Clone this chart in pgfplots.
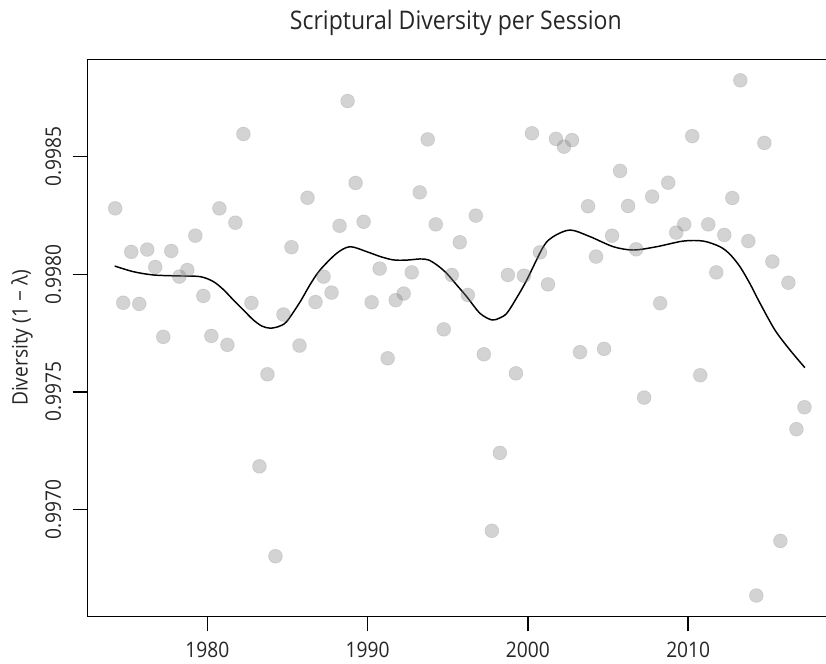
\documentclass[border=0pt]{standalone}
\usepackage{fontspec}
\setmainfont{Open Sans}[FakeStretch=0.9]
\usepackage{pgfplots}
\usepackage{pgfplotstable}
\pgfplotsset{compat=1.18}

% diversity of each session
\pgfplotstableread{
year   div
1974.25 0.998280
1974.75 0.997879
1975.25 0.998095
1975.75 0.997874
1976.25 0.998105
1976.75 0.998031
1977.25 0.997734
1977.75 0.998099
1978.25 0.997990
1978.75 0.998018
1979.25 0.998164
1979.75 0.997908
1980.25 0.997738
1980.75 0.998280
1981.25 0.997700
1981.75 0.998219
1982.25 0.998596
1982.75 0.997878
1983.25 0.997184
1983.75 0.997575
1984.25 0.996802
1984.75 0.997829
1985.25 0.998115
1985.75 0.997697
1986.25 0.998325
1986.75 0.997882
1987.25 0.997990
1987.75 0.997922
1988.25 0.998206
1988.75 0.998736
1989.25 0.998388
1989.75 0.998223
1990.25 0.997881
1990.75 0.998024
1991.25 0.997643
1991.75 0.997890
1992.25 0.997918
1992.75 0.998008
1993.25 0.998348
1993.75 0.998573
1994.25 0.998212
1994.75 0.997766
1995.25 0.997997
1995.75 0.998136
1996.25 0.997912
1996.75 0.998249
1997.25 0.997660
1997.75 0.996910
1998.25 0.997241
1998.75 0.997997
1999.25 0.997579
1999.75 0.997994
2000.25 0.998599
2000.75 0.998093
2001.25 0.997957
2001.75 0.998575
2002.25 0.998542
2002.75 0.998570
2003.25 0.997669
2003.75 0.998289
2004.25 0.998075
2004.75 0.997683
2005.25 0.998164
2005.75 0.998439
2006.25 0.998290
2006.75 0.998106
2007.25 0.997476
2007.75 0.998330
2008.25 0.997877
2008.75 0.998389
2009.25 0.998177
2009.75 0.998212
2010.25 0.998587
2010.75 0.997571
2011.25 0.998212
2011.75 0.998008
2012.25 0.998167
2012.75 0.998324
2013.25 0.998824
2013.75 0.998141
2014.25 0.996635
2014.75 0.998558
2015.25 0.998054
2015.75 0.996867
2016.25 0.997964
2016.75 0.997342
2017.25 0.997435
}\sessions

% smoothed trend
\pgfplotstableread{
year   div
1974.22 0.998035
1975.38 0.998011
1976.63 0.997997
1978.09 0.997993
1979.54 0.997990
1980.37 0.997969
1981.00 0.997935
1981.62 0.997891
1982.25 0.997848
1982.87 0.997806
1983.40 0.997780
1983.91 0.997771
1984.45 0.997778
1984.95 0.997799
1985.78 0.997882
1986.40 0.997955
1987.03 0.998018
1988.07 0.998089
1988.90 0.998117
1989.94 0.998096
1990.80 0.998075
1991.60 0.998061
1992.40 0.998060
1993.27 0.998065
1993.79 0.998061
1994.35 0.998038
1994.93 0.998004
1995.55 0.997955
1996.18 0.997905
1997.01 0.997834
1997.74 0.997806
1998.20 0.997813
1998.68 0.997834
1999.30 0.997900
1999.93 0.997976
2000.96 0.998117
2001.58 0.998160
2002.63 0.998188
2003.87 0.998160
2005.33 0.998117
2006.58 0.998103
2008.03 0.998117
2009.69 0.998141
2010.94 0.998141
2011.98 0.998117
2012.60 0.998085
2013.23 0.998032
2013.85 0.997960
2014.48 0.997877
2015.41 0.997763
2016.35 0.997678
2017.28 0.997603
}\trend

\begin{document}
\begin{tikzpicture}
\begin{axis}[
  name=ax,
  scale only axis,
  width=558.3pt, height=417.5pt,
  xmin=1972.53, xmax=2018.97,
  ymin=0.996547, ymax=0.998912,
  axis line style={black, line width=1.1pt},
  xtick={1980,1990,2000,2010},
  xticklabels={1980,1990,2000,2010},
  ytick={0.9970,0.9975,0.9980,0.9985},
  yticklabels={0.9970,0.9975,0.9980,0.9985},
  xtick pos=bottom, ytick pos=left,
  tick align=outside,
  major tick length=11.25pt,
  every tick/.style={black, line width=1.1pt},
  minor tick num=0,
  /pgf/number format/assume math mode=true,
  tick label style={font=\fontsize{16}{19}\selectfont, text=black!85},
  xticklabel shift=4.5pt,
  yticklabel shift=5pt,
  yticklabel style={rotate=90, anchor=south},
]
\addplot[only marks, mark=*, mark size=5.2pt,
  mark options={fill=gray, draw=gray, fill opacity=0.35, draw opacity=0.2, line width=0.6pt}]
  table[x=year, y=div] {\sessions};
\addplot[black, line width=1.1pt, smooth] table[x=year, y=div] {\trend};
\end{axis}
\node[anchor=base, font=\fontsize{19.2}{22}\selectfont, text=black!85]
  at ([xshift=-3pt,yshift=22.7pt]ax.north) {Scriptural Diversity per Session};
\node[rotate=90, anchor=center, font=\fontsize{16}{19}\selectfont, text=black!85]
  at ([xshift=-49.2pt]ax.west) {Diversity (1 − λ)};
\pgfresetboundingbox
\path[use as bounding box] ([xshift=-65.7pt,yshift=-35.8pt]ax.south west)
  rectangle ([xshift=-4.5pt,yshift=44.7pt]ax.north east);
\end{tikzpicture}
\end{document}
